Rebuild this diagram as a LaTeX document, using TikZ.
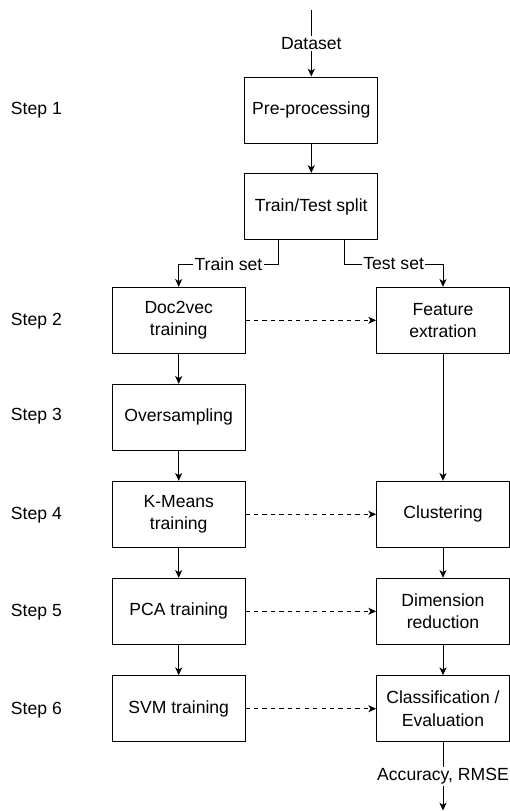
\documentclass[tikz,border=0pt]{standalone}
\usepackage{fontspec}
\setmainfont{Liberation Sans}
\usepackage{tikz}
\usetikzlibrary{positioning}
\usetikzlibrary{calc}
\usetikzlibrary{arrows.meta}
\tikzset{
    stepbox/.style={draw, line width=0.7pt, minimum width=3.32cm, minimum height=1.65cm, align=center, inner sep=2pt, font=\fontsize{12.5}{15.9}\selectfont},
    steplabel/.style={anchor=west, inner sep=0pt, font=\fontsize{12.5}{15.9}\selectfont},
    flow/.style={-{Stealth[length=5.5pt, width=5pt, inset=1.5pt]}, line width=0.7pt},
    trainflow/.style={flow, dashed},
    edgelabel/.style={fill=white, inner sep=1pt, font=\fontsize{12.5}{15.9}\selectfont}
}

\begin{document}
\begin{tikzpicture}[x=0.025cm, y=-0.025cm]
    %
    \useasboundingbox (0,0) rectangle (509,811);
    %
    \node[stepbox] (pre) at (311.3, 110) {Pre-processing};
    \node[stepbox] (split) at (311.3, 206.5) {Train/Test split};
    %
    \node[stepbox] (doc) at (178.7, 320.3) {Doc2vec\\training};
    \node[stepbox] (over) at (178.7, 417.3) {Oversampling};
    \node[stepbox] (kmeans) at (178.7, 514.3) {K-Means\\training};
    \node[stepbox] (pca) at (178.7, 611.3) {PCA training};
    \node[stepbox] (svm) at (178.7, 708.7) {SVM training};
    %
    \node[stepbox] (feat) at (443, 320.3) {Feature\\extration};
    \node[stepbox] (clust) at (443, 514.3) {Clustering};
    \node[stepbox] (dimred) at (443, 611.3) {Dimension\\reduction};
    \node[stepbox] (classif) at (443, 708.7) {Classification /\\Evaluation};
    %
    \node[steplabel] (s1) at (10.7, 110.5) {Step 1};
    \node[steplabel] (s2) at (10.7, 321.5) {Step 2};
    \node[steplabel] (s3) at (10.7, 416) {Step 3};
    \node[steplabel] (s4) at (10.7, 515.5) {Step 4};
    \node[steplabel] (s5) at (10.7, 612.5) {Step 5};
    \node[steplabel] (s6) at (10.7, 710) {Step 6};
    %
    \coordinate (source) at (311.3, 10);
    \coordinate (result) at (443, 810.5);
    %
    \draw[flow] (source) -- node[edgelabel] {Dataset} (pre);
    \draw[flow] (pre) -- (split);
    \draw[flow] ($(split.south)+(-33,0)$) -- ++(0,24) -| node[edgelabel, pos=0.25] {Train set} (doc.north);
    \draw[flow] ($(split.south)+(33,0)$) -- ++(0,24) -| node[edgelabel, pos=0.25] {Test set} (feat.north);
    %
    \draw[flow] (doc) -- (over);
    \draw[flow] (over) -- (kmeans);
    \draw[flow] (kmeans) -- (pca);
    \draw[flow] (pca) -- (svm);
    %
    \draw[flow] (feat) -- (clust);
    \draw[flow] (clust) -- (dimred);
    \draw[flow] (dimred) -- (classif);
    \draw[flow] (classif) -- node[edgelabel] {Accuracy, RMSE} (result);
    %
    \draw[trainflow] (doc) -- (feat);
    \draw[trainflow] (kmeans) -- (clust);
    \draw[trainflow] (pca) -- (dimred);
    \draw[trainflow] (svm) -- (classif);
    %
\end{tikzpicture}
\end{document}
